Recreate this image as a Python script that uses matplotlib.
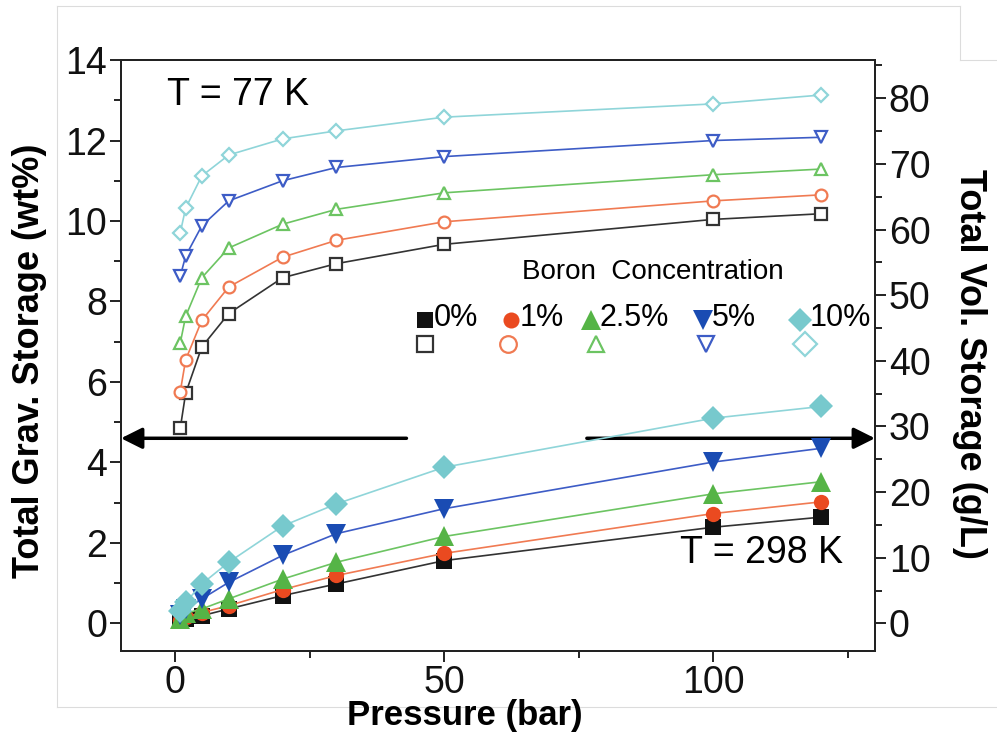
import matplotlib
matplotlib.use("Agg")
import matplotlib.pyplot as plt
from matplotlib.lines import Line2D
from matplotlib.ticker import MultipleLocator

plt.rcParams['font.family'] = ['Liberation Sans', 'DejaVu Sans']

# pressure points (bar)
pressure = [1, 2, 5, 10, 20, 30, 50, 100, 120]

# 77 K, total gravimetric storage (wt%)
g77_b0 = [4.85, 5.72, 6.87, 7.70, 8.59, 8.94, 9.42, 10.04, 10.18]
g77_b1 = [5.76, 6.55, 7.53, 8.36, 9.10, 9.52, 9.98, 10.50, 10.65]
g77_b25 = [6.97, 7.63, 8.59, 9.33, 9.92, 10.29, 10.70, 11.15, 11.29]
g77_b5 = [8.63, 9.13, 9.88, 10.50, 11.00, 11.33, 11.60, 12.00, 12.08]
g77_b10 = [9.71, 10.32, 11.12, 11.64, 12.04, 12.24, 12.58, 12.91, 13.13]

# 298 K, total gravimetric storage (wt%)
g298_b0 = [0.05, 0.10, 0.19, 0.36, 0.69, 0.98, 1.56, 2.39, 2.64]
g298_b1 = [0.08, 0.15, 0.27, 0.44, 0.84, 1.19, 1.74, 2.73, 3.02]
g298_b25 = [0.12, 0.25, 0.36, 0.61, 1.10, 1.52, 2.16, 3.22, 3.52]
g298_b5 = [0.20, 0.36, 0.61, 1.02, 1.69, 2.23, 2.85, 4.01, 4.35]
g298_b10 = [0.30, 0.52, 0.98, 1.52, 2.42, 2.97, 3.88, 5.10, 5.39]

labels = ['0%', '1%', '2.5%', '5%', '10%']
markers = ['s', 'o', '^', 'v', 'D']
fill_cols = ['#111111', '#ea4a20', '#55b446', '#1a4cb3', '#77c9cd']
open_cols = ['#333333', '#f07a52', '#6cc462', '#3d5cc6', '#8fd5d9']
size_298 = [11, 11, 14, 14, 12]
size_77 = [8, 8.5, 9, 9, 7.5]

fig = plt.figure(figsize=(9.97, 7.32), dpi=100)
ax = fig.add_axes([0.1214, 0.111, 0.7562, 0.807])

series77 = [g77_b0, g77_b1, g77_b25, g77_b5, g77_b10]
series298 = [g298_b0, g298_b1, g298_b25, g298_b5, g298_b10]

for i in range(5):
    ax.plot(pressure, series77[i], color=open_cols[i], lw=1.2,
            marker=markers[i], ms=size_77[i], mfc='white', mec=open_cols[i],
            mew=1.6, zorder=3)
for i in range(5):
    ax.plot(pressure, series298[i], color=open_cols[i], lw=1.2,
            marker=markers[i], ms=size_298[i], mfc=fill_cols[i],
            mec=fill_cols[i], mew=0, zorder=4 + i * 0.1)

ax.set_xlim(-10, 130)
ax.set_ylim(-0.68, 14)
ax.xaxis.set_major_locator(MultipleLocator(50))
ax.xaxis.set_minor_locator(MultipleLocator(25))
ax.yaxis.set_major_locator(MultipleLocator(2))
ax.yaxis.set_minor_locator(MultipleLocator(1))

ax2 = ax.twinx()
ax2.set_ylim(-0.68 * 6.13, 14 * 6.13)
ax2.yaxis.set_major_locator(MultipleLocator(10))
ax2.yaxis.set_minor_locator(MultipleLocator(5))

for a in (ax, ax2):
    for s in a.spines.values():
        s.set_linewidth(1.4)
        s.set_color('#222222')
    a.tick_params(which='major', direction='out', length=8, width=1.4,
                  labelsize=27, pad=2, colors='#222222', labelcolor='#111111')
    a.tick_params(which='minor', direction='out', length=5, width=1.4,
                  colors='#222222')

ax.set_xlabel('Pressure (bar)', fontsize=25, fontweight='bold', va='center')
ax.set_ylabel('Total Grav. Storage (wt%)', fontsize=26, fontweight='bold',
              va='center')
ax2.set_ylabel('Total Vol. Storage (g/L)', fontsize=26, fontweight='bold',
               rotation=270, va='center')
ax.xaxis.set_label_coords(0.456, -0.110)
ax.yaxis.set_label_coords(-0.121, 0.49)
ax2.yaxis.set_label_coords(1.126, 0.485)

# arrows pointing to the relevant axes
ax.annotate('', xy=(-10, 4.6), xytext=(43, 4.6), annotation_clip=False,
            arrowprops=dict(arrowstyle='-|>', lw=2.5, color='black',
                            mutation_scale=32, shrinkA=0, shrinkB=0))
ax.annotate('', xy=(130, 4.6), xytext=(76.5, 4.6), annotation_clip=False,
            arrowprops=dict(arrowstyle='-|>', lw=2.5, color='black',
                            mutation_scale=32, shrinkA=0, shrinkB=0))

ax.text(0.061, 0.941, 'T = 77 K', transform=ax.transAxes, fontsize=27,
        va='center', ha='left')
ax.text(0.741, 0.166, 'T = 298 K', transform=ax.transAxes, fontsize=27,
        va='center', ha='left')

# hand-built legend
ax.text(0.706, 0.641, 'Boron  Concentration', transform=ax.transAxes,
        fontsize=20, ha='center', va='center')
leg_x = [0.403, 0.517, 0.623, 0.772, 0.901]
leg_open_x = [0.403, 0.513, 0.630, 0.776, 0.907]
for i in range(5):
    ax.plot(leg_x[i], 0.560, marker=markers[i], ms=size_298[i] * 1.05,
            mfc=fill_cols[i], mec=fill_cols[i], mew=0,
            transform=ax.transAxes, clip_on=False, zorder=6)
    ax.text(leg_x[i] + 0.012, 0.563, labels[i], transform=ax.transAxes,
            fontsize=22, ha='left', va='center', zorder=6)
    ax.plot(leg_open_x[i], 0.519, marker=markers[i], ms=12,
            mfc='white', mec=open_cols[i], mew=1.6,
            transform=ax.transAxes, clip_on=False, zorder=6)

# faint frame from the original scan
frame = '#dcdcdc'
W, H = 997.0, 732.0
for xs, ys in [([57, 960], [6, 6]), ([960, 960], [6, 60]),
               ([960, 997], [60, 60]), ([57, 57], [6, 707]),
               ([57, 997], [707, 707])]:
    fig.add_artist(Line2D([x / W for x in xs], [1 - y / H for y in ys],
                          color=frame, lw=0.8, transform=fig.transFigure,
                          zorder=0))

fig.savefig('out.png', dpi=100)
